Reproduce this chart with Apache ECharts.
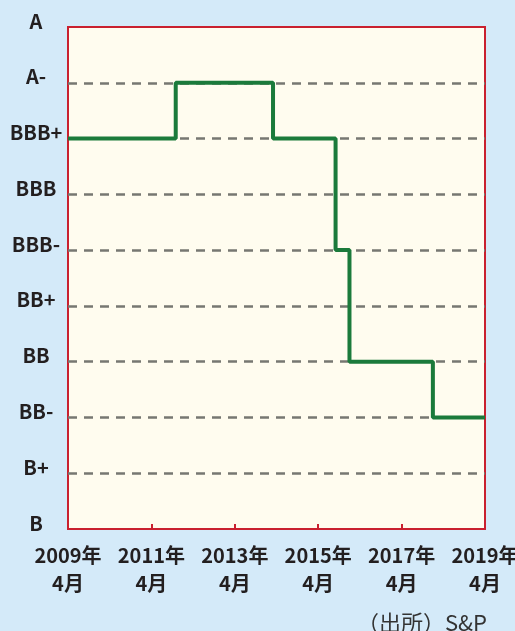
<!DOCTYPE html>
<html>
<head>
<meta charset="utf-8">
<script src="https://cdn.jsdelivr.net/npm/echarts@6/dist/echarts.min.js"></script>
<style>
html,body{margin:0;padding:0;background:#d4eaf9;}
#c{width:515px;height:631px;}
</style>
</head>
<body>
<div id="c"></div>
<script>
// Rating scale (bottom to top)
var ratings = ['B','B+','BB-','BB','BB+','BBB-','BBB','BBB+','A-','A'];
// Rating change dates (year-month) and the rating that applies from that date
var changeDates = ['2009-04','2011-11','2014-03','2015-09','2016-01','2018-01','2019-04'];
var ratingSeq   = ['BBB+','A-','BBB+','BBB-','BB','BB-','BB-'];
// X tick labels (every two years from April 2009)
var xTickLabels = ['2009年\n4月','2011年\n4月','2013年\n4月','2015年\n4月','2017年\n4月','2019年\n4月'];
var sourceText = '（出所）S&P';

function monthsFromStart(d){
  var p = d.split('-');
  return (parseInt(p[0],10)-2009)*12 + (parseInt(p[1],10)-4);
}
// build step polyline: at each change date, go vertically from previous rating to new rating
var data = [];
changeDates.forEach(function(d,i){
  var x = monthsFromStart(d);
  if (i > 0) data.push([x, ratingSeq[i-1]]);
  data.push([x, ratingSeq[i]]);
});

var font = '"Noto Sans CJK JP","Noto Sans",sans-serif';
var chart = echarts.init(document.getElementById('c'));
chart.setOption({
  backgroundColor: '#d4eaf9',
  animation: false,
  grid: {
    left: 68, right: 30, top: 27, bottom: 102,
    outerBoundsMode: 'none',
    containLabel: false,
    show: true,
    backgroundColor: '#fffcef',
    borderColor: '#c9202f',
    borderWidth: 2
  },
  xAxis: {
    type: 'value',
    min: 0, max: 120, interval: 24,
    axisLine: {show: false},
    axisTick: {show: true, inside: true, length: 5, lineStyle: {color: '#c9202f', width: 2}},
    splitLine: {show: false},
    axisLabel: {
      margin: 12,
      fontFamily: font, fontWeight: 'bold', fontSize: 20, color: '#231f20',
      lineHeight: 28, align: 'center',
      formatter: function(v){ return xTickLabels[Math.round(v/24)]; }
    }
  },
  yAxis: {
    type: 'category',
    data: ratings,
    boundaryGap: false,
    axisLine: {show: false},
    axisTick: {show: false},
    splitLine: {
      show: true,
      interval: function(idx){ return idx !== 0 && idx !== ratings.length-1; },
      lineStyle: {color: '#777772', width: 2.5, type: [9,7]}
    },
    axisLabel: {
      margin: 32, align: 'center', verticalAlign: 'bottom', lineHeight: 12,
      fontFamily: font, fontWeight: 'bold', fontSize: 20, color: '#231f20'
    }
  },
  series: [{
    type: 'line',
    data: data,
    symbol: 'none',
    lineStyle: {color: '#1b7a3b', width: 4},
    z: 5
  }],
  graphic: [{
    type: 'text',
    right: 28, bottom: -3,
    style: {text: sourceText, fontFamily: font, fontSize: 22, fill: '#333333'}
  }]
});
</script>
</body>
</html>
